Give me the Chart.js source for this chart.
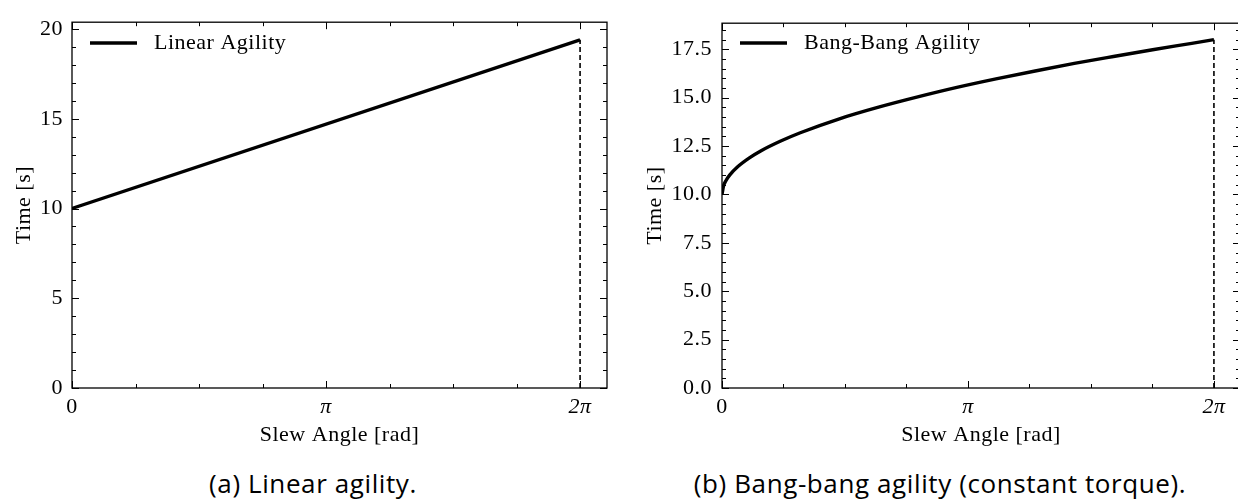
<!DOCTYPE html>
<html>
<head>
<meta charset="utf-8">
<script src="https://cdn.jsdelivr.net/npm/chart.js@4.4.0/dist/chart.umd.min.js"></script>
<style>
  html, body { margin: 0; padding: 0; background: #fff; overflow: hidden; width: 1238px; height: 501px; }
  canvas { position: absolute; top: 0; }
  #chartA { left: 0; }
  #chartB { left: 640px; }
  .caption { position: absolute; top: 468px; line-height: 30px; font-family: 'Open Sans', sans-serif; font-size: 26px; letter-spacing: 0.6px; color: #000; white-space: nowrap; transform: translateX(-50%); }
</style>
</head>
<body>
<canvas id="chartA" width="620" height="455"></canvas>
<canvas id="chartB" width="620" height="455"></canvas>
<div class="caption" style="left:313px">(a) Linear agility.</div>
<div class="caption" style="left:940px">(b) Bang-bang agility (constant torque).</div>
<script>
const PI = Math.PI;

// x axis: slew angle in radians
const xTickValues = [0, PI, 2 * PI];
const xTickLabels = ['0', 'π', '2π'];
const maxSlew = 2 * PI;

// (a) linear agility
const linearAngle = [0, 2 * PI];
const linearTime = [10, 19.4];

// (b) bang-bang agility
const bangAngle = [0, 0.02, 0.05, 0.1, 0.2, 0.35, 0.5, 0.75, 1.0, 1.5, 2.0, 2.5, 3.0, 3.5, 4.0, 4.5, 5.0, 5.5, 6.0, 2 * PI];
const bangTime  = [10, 10.45, 10.71, 11.01, 11.43, 11.89, 12.26, 12.76, 13.19, 13.91, 14.51, 15.04, 15.53, 15.97, 16.38, 16.77, 17.13, 17.48, 17.81, 18.0];

const FONT = 'Liberation Serif';
const FSIZE = 22;

Chart.defaults.font.family = FONT;
Chart.defaults.font.size = FSIZE;
Chart.defaults.color = '#000';

// wider serif spacing, a bit closer to the LaTeX look
const spacing = {
    id: 'spacing',
    beforeDraw(chart) { chart.ctx.letterSpacing = '0.5px'; }
};

// legend sits inside the axes, a bit lower than Chart.js puts it
const legendShift = {
    id: 'legendShift',
    afterLayout(chart) {
        const lg = chart.legend;
        if (!lg) return;
        lg.top += 14;
        lg.bottom += 14;
    }
};

// inward ticks on all four sides + full frame
const frameTicks = {
    id: 'frameTicks',
    afterDatasetsDraw(chart, args, opts) {
        const { ctx, chartArea: a, scales: { x, y } } = chart;
        ctx.save();
        ctx.strokeStyle = '#000';
        ctx.lineWidth = 1;
        const seg = (x1, y1, x2, y2) => { ctx.beginPath(); ctx.moveTo(x1, y1); ctx.lineTo(x2, y2); ctx.stroke(); };
        for (let k = 0; k * opts.xMinor <= x.max + 1e-9; k++) {
            const len = k % 4 === 0 ? 7 : 4;
            const px = Math.round(x.getPixelForValue(k * opts.xMinor)) + 0.5;
            seg(px, a.bottom, px, a.bottom - len);
            seg(px, a.top, px, a.top + len);
        }
        for (let k = 0; k * opts.yMinor <= y.max + 1e-9; k++) {
            const len = k % 5 === 0 ? 7 : 4;
            const py = Math.round(y.getPixelForValue(k * opts.yMinor)) + 0.5;
            seg(a.left, py, a.left + len, py);
            seg(a.right, py, a.right - len, py);
        }
        ctx.lineWidth = 1.3;
        ctx.strokeRect(a.left, a.top, a.right - a.left, a.bottom - a.top);
        ctx.restore();
    }
};

function makeChart(id, cfg) {
    const solid = cfg.angle.map((v, i) => ({ x: v, y: cfg.time[i] }));
    const endTime = cfg.time[cfg.time.length - 1];
    new Chart(document.getElementById(id), {
        type: 'line',
        data: {
            datasets: [
                {
                    label: cfg.legend,
                    data: solid,
                    borderColor: '#000',
                    borderWidth: 3.4,
                    pointRadius: 0,
                    cubicInterpolationMode: 'monotone',
                    fill: false
                },
                {
                    label: 'limit',
                    data: [{ x: maxSlew, y: 0 }, { x: maxSlew, y: endTime }],
                    borderColor: '#000',
                    borderWidth: 1.6,
                    borderDash: [5, 3],
                    pointRadius: 0,
                    fill: false
                }
            ]
        },
        options: {
            responsive: false,
            animation: false,
            layout: { padding: { top: 13, right: cfg.rightPad, left: 0, bottom: 0 } },
            scales: {
                x: {
                    type: 'linear',
                    min: 0,
                    max: 2.106 * PI,
                    afterBuildTicks: s => { s.ticks = xTickValues.map(v => ({ value: v })); },
                    afterFit: s => { s.height = 67; },
                    grid: { display: false, drawTicks: false },
                    border: { display: false },
                    ticks: {
                        padding: 6,
                        autoSkip: false,
                        maxRotation: 0,
                        font: c => ({ family: FONT, size: FSIZE, style: c.tick && c.tick.value ? 'italic' : 'normal' }),
                        callback: (v, i) => xTickLabels[i]
                    },
                    title: { display: true, text: 'Slew Angle [rad]', padding: { top: 0, bottom: 7 }, font: { family: FONT, size: FSIZE } }
                },
                y: {
                    type: 'linear',
                    min: 0,
                    max: cfg.yMax,
                    afterFit: s => { s.width = cfg.yWidth; },
                    grid: { display: false, drawTicks: false },
                    border: { display: false },
                    ticks: {
                        stepSize: cfg.yStep,
                        includeBounds: false,
                        padding: cfg.yPad,
                        callback: v => v.toFixed(cfg.decimals)
                    },
                    title: { display: true, text: 'Time [s]', padding: { top: cfg.titlePad, bottom: 0 }, font: { family: FONT, size: FSIZE } }
                }
            },
            plugins: {
                legend: {
                    position: 'chartArea',
                    align: 'start',
                    labels: {
                        boxWidth: 47,
                        boxHeight: 3.5,
                        padding: 18,
                        font: { family: FONT, size: FSIZE },
                        generateLabels: () => [{ text: ' ' + cfg.legend, fillStyle: '#000', strokeStyle: '#000', lineWidth: 0, hidden: false, datasetIndex: 0 }]
                    }
                },
                tooltip: { enabled: false },
                frameTicks: { xMinor: PI / 4, yMinor: cfg.yMinor }
            }
        },
        plugins: [spacing, legendShift, frameTicks]
    });
}

makeChart('chartA', {
    angle: linearAngle, time: linearTime, legend: 'Linear Agility',
    yMax: 20.38, yStep: 5, yMinor: 1, decimals: 0,
    yWidth: 72, yPad: 9, titlePad: 11, rightPad: 13
});

makeChart('chartB', {
    angle: bangAngle, time: bangTime, legend: 'Bang-Bang Agility',
    yMax: 18.85, yStep: 2.5, yMinor: 0.5, decimals: 1,
    yWidth: 82, yPad: 10, titlePad: 2, rightPad: 20
});
</script>
</body>
</html>
